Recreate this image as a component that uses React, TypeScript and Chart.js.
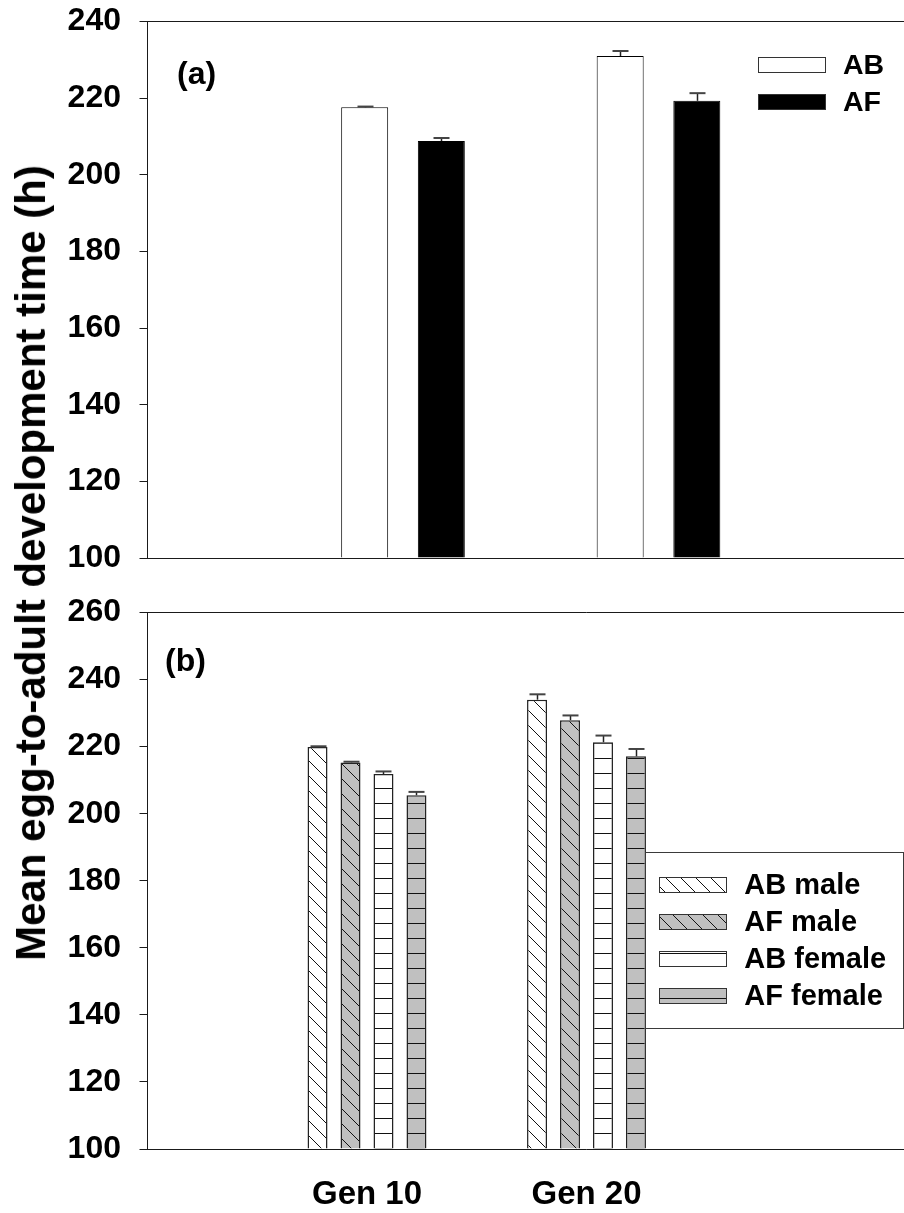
import { useEffect, useRef } from 'react';
import { Chart, registerables } from 'chart.js';

Chart.register(...registerables);

// ---- data ----------------------------------------------------------------
const GENERATIONS = ['Gen 10', 'Gen 20'];

// (a) sexes pooled, mean ± SE (h)
const AB_MEAN = [217.6, 231.0];
const AB_SE = [0.2, 1.3];
const AF_MEAN = [208.8, 219.3];
const AF_SE = [0.8, 2.0];

// (b) by sex, mean ± SE (h)
const AB_MALE_MEAN = [219.9, 234.0];
const AB_MALE_SE = [0.2, 1.6];
const AF_MALE_MEAN = [215.3, 227.9];
const AF_MALE_SE = [0.2, 1.4];
const AB_FEMALE_MEAN = [211.8, 221.3];
const AB_FEMALE_SE = [0.8, 2.0];
const AF_FEMALE_MEAN = [205.5, 217.1];
const AF_FEMALE_SE = [1.0, 2.2];

const TICKS_A = [100, 120, 140, 160, 180, 200, 220, 240];
const TICKS_B = [100, 120, 140, 160, 180, 200, 220, 240, 260];

const Y_TITLE = 'Mean egg-to-adult development time (h)';

// ---- styling -------------------------------------------------------------
const FONT = "'Liberation Sans', Arial, Helvetica, sans-serif";
const LINE = '#1a1a1a';
const GREY = '#c0c0c0';
const TICK_SIZE = 32;

function hatch(bg: string, kind: 'diag' | 'horiz'): CanvasPattern | string {
  const s = 15;
  const c = document.createElement('canvas');
  c.width = s;
  c.height = s;
  const g = c.getContext('2d');
  if (!g) return bg;
  g.fillStyle = bg;
  g.fillRect(0, 0, s, s);
  g.strokeStyle = '#111';
  g.lineWidth = 1;
  g.beginPath();
  if (kind === 'diag') {
    for (const k of [-1, 0, 1]) {
      g.moveTo(k * s, 0);
      g.lineTo(k * s + s, s);
    }
  } else {
    g.moveTo(0, 6.5);
    g.lineTo(s, 6.5);
  }
  g.stroke();
  return g.createPattern(c, 'repeat') || bg;
}

function yAxis(ticks: number[]) {
  const lo = ticks[0];
  const hi = ticks[ticks.length - 1];
  return {
    min: lo,
    max: hi,
    afterBuildTicks: (s: any) => {
      s.ticks = ticks.map((v) => ({ value: v }));
    },
    afterFit: (s: any) => {
      s.width = 147.5;
    },
    border: { display: true, color: LINE, width: 1 },
    grid: {
      drawOnChartArea: true,
      drawTicks: true,
      tickLength: 8,
      lineWidth: 1,
      tickColor: LINE,
      color: (c: any) =>
        c.tick && (c.tick.value === lo || c.tick.value === hi) ? LINE : 'rgba(0,0,0,0)',
    },
    ticks: {
      font: { family: FONT, size: TICK_SIZE, weight: 'bold' },
      color: '#000',
      padding: 18.5,
    },
  };
}

// Error bars (upper half only), panel letter and legend
const decor = {
  id: 'decor',
  afterDatasetsDraw(chart: any, _args: any, opts: any) {
    const { ctx, chartArea } = chart;
    const y = chart.scales.y;
    ctx.save();

    chart.data.datasets.forEach((ds: any, i: number) => {
      const meta = chart.getDatasetMeta(i);
      if (!ds.errors) return;
      meta.data.forEach((bar: any, j: number) => {
        const v = ds.data[j];
        const e = ds.errors[j];
        if (v == null || e == null) return;
        const top = y.getPixelForValue(v + e);
        const x = Math.round(bar.x) + 0.5;
        ctx.strokeStyle = '#222';
        ctx.lineWidth = 1.5;
        ctx.beginPath();
        ctx.moveTo(x, bar.y);
        ctx.lineTo(x, top);
        ctx.stroke();
        ctx.strokeStyle = '#444';
        ctx.lineWidth = 2;
        ctx.beginPath();
        ctx.moveTo(x - 8, top);
        ctx.lineTo(x + 8, top);
        ctx.stroke();
      });
    });

    // panel letter
    ctx.fillStyle = '#000';
    ctx.font = `bold ${opts.labelSize}px ${FONT}`;
    ctx.textAlign = 'left';
    ctx.textBaseline = 'middle';
    ctx.fillText(opts.label, chartArea.left + opts.labelX, chartArea.top + opts.labelY);

    // legend
    const lg = opts.legend;
    if (lg.box) {
      const bx = Math.round(chartArea.left + lg.box.x);
      const by = Math.round(chartArea.top + lg.box.y);
      ctx.fillStyle = '#fff';
      ctx.fillRect(bx, by, lg.box.w, lg.box.h);
      ctx.strokeStyle = '#3a3a3a';
      ctx.lineWidth = 1;
      ctx.strokeRect(bx + 0.5, by + 0.5, lg.box.w, lg.box.h);
    }
    chart.data.datasets.forEach((ds: any, i: number) => {
      const sx = Math.round(chartArea.left + lg.x);
      const sy = Math.round(chartArea.top + lg.y + i * lg.step);
      ctx.fillStyle = ds.backgroundColor;
      ctx.fillRect(sx, sy, lg.w, lg.h);
      ctx.strokeStyle = '#333';
      ctx.lineWidth = 1;
      ctx.strokeRect(sx + 0.5, sy + 0.5, lg.w - 1, lg.h - 1);
      ctx.fillStyle = '#000';
      ctx.font = `bold ${lg.fontSize}px ${FONT}`;
      ctx.textAlign = 'left';
      ctx.textBaseline = 'middle';
      ctx.fillText(ds.label, chartArea.left + lg.textX, sy + lg.h / 2 + 1);
    });

    ctx.restore();
  },
};

const pad2 = (arr: number[], tail: number) => [null, ...arr, ...Array(tail).fill(null)];

export default function App() {
  const refA = useRef<HTMLCanvasElement>(null);
  const refB = useRef<HTMLCanvasElement>(null);

  useEffect(() => {
    if (!refA.current || !refB.current) return;

    const labelsA = ['', ...GENERATIONS, ''];
    const labelsB = ['', ...GENERATIONS, '', ''];

    const chartA = new Chart(refA.current, {
      type: 'bar',
      data: {
        labels: labelsA,
        datasets: [
          {
            label: 'AB',
            data: pad2(AB_MEAN, 1),
            errors: pad2(AB_SE, 1),
            backgroundColor: '#ffffff',
            borderColor: '#000',
            borderWidth: 1,
          } as any,
          {
            label: 'AF',
            data: pad2(AF_MEAN, 1),
            errors: pad2(AF_SE, 1),
            backgroundColor: '#000000',
            borderColor: '#000',
            borderWidth: 1,
          } as any,
        ],
      },
      options: {
        animation: false,
        responsive: false,
        devicePixelRatio: 1,
        layout: { padding: { top: 40.5, bottom: 40, left: 0, right: 6 } },
        datasets: { bar: { base: TICKS_A[0], categoryPercentage: 0.6, barPercentage: 0.613, clip: 0 } as any },
        scales: {
          x: { display: false, offset: false, grid: { display: false } },
          y: yAxis(TICKS_A) as any,
        },
        plugins: {
          legend: { display: false },
          tooltip: { enabled: false },
          decor: {
            label: '(a)',
            labelSize: 32,
            labelX: 29.5,
            labelY: 53.5,
            legend: { x: 610.5, y: 35.5, w: 68, h: 16, step: 37.4, textX: 695.5, fontSize: 28.5 },
          },
        } as any,
      },
      plugins: [decor],
    });

    const diagWhite = hatch('#ffffff', 'diag');
    const diagGrey = hatch(GREY, 'diag');
    const horizWhite = hatch('#ffffff', 'horiz');
    const horizGrey = hatch(GREY, 'horiz');

    const chartB = new Chart(refB.current, {
      type: 'bar',
      data: {
        labels: labelsB,
        datasets: [
          { label: 'AB male', data: pad2(AB_MALE_MEAN, 2), errors: pad2(AB_MALE_SE, 2), backgroundColor: diagWhite },
          { label: 'AF male', data: pad2(AF_MALE_MEAN, 2), errors: pad2(AF_MALE_SE, 2), backgroundColor: diagGrey },
          { label: 'AB female', data: pad2(AB_FEMALE_MEAN, 2), errors: pad2(AB_FEMALE_SE, 2), backgroundColor: horizWhite },
          { label: 'AF female', data: pad2(AF_FEMALE_MEAN, 2), errors: pad2(AF_FEMALE_SE, 2), backgroundColor: horizGrey },
        ].map((d) => ({ ...d, borderColor: '#222', borderWidth: 1.5 })) as any,
      },
      options: {
        animation: false,
        responsive: false,
        devicePixelRatio: 1,
        layout: { padding: { top: 40.5, bottom: 0, left: 0, right: 26.5 } },
        datasets: { bar: { base: TICKS_B[0], categoryPercentage: 0.601, barPercentage: 0.606, clip: 0 } as any },
        scales: {
          x: {
            offset: false,
            grid: { display: false, drawTicks: false },
            border: { display: false },
            afterFit: (s: any) => {
              s.height = 64;
            },
            ticks: {
              font: { family: FONT, size: 33, weight: 'bold' },
              color: '#000',
              padding: 26,
              maxRotation: 0,
              autoSkip: false,
            },
          } as any,
          y: yAxis(TICKS_B) as any,
        },
        plugins: {
          legend: { display: false },
          tooltip: { enabled: false },
          decor: {
            label: '(b)',
            labelSize: 32,
            labelX: 17.5,
            labelY: 49.5,
            legend: {
              box: { x: 497.2, y: 239.8, w: 258, h: 176 },
              x: 511.8,
              y: 264.2,
              w: 68,
              h: 16,
              step: 37.2,
              textX: 596.8,
              fontSize: 29,
            },
          },
        } as any,
      },
      plugins: [decor],
    });

    return () => {
      chartA.destroy();
      chartB.destroy();
    };
  }, []);

  return (
    <div
      style={{
        position: 'fixed',
        left: 0,
        top: 0,
        width: 904,
        height: 1213,
        overflow: 'hidden',
        background: '#fff',
      }}
    >
      <canvas ref={refA} width={920} height={617} style={{ position: 'absolute', left: 0, top: -19 }} />
      <canvas ref={refB} width={1052} height={641} style={{ position: 'absolute', left: 0, top: 572 }} />
      <div
        style={{
          position: 'absolute',
          left: 31,
          top: 563,
          transform: 'translate(-50%, -50%) rotate(-90deg)',
          whiteSpace: 'nowrap',
          fontFamily: FONT,
          fontWeight: 'bold',
          fontSize: 42,
          lineHeight: 1,
          color: '#000',
        }}
      >
        {Y_TITLE}
      </div>
    </div>
  );
}
